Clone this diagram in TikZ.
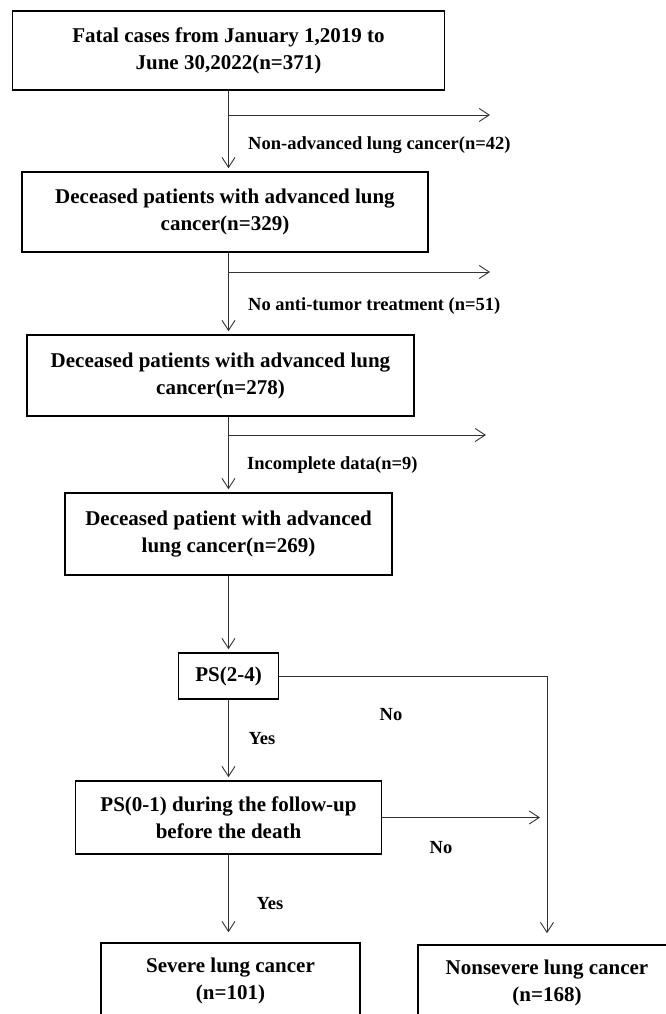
\documentclass[tikz,border=0pt]{standalone}
\usepackage{fontspec}
\setmainfont{Liberation Serif}
\usepackage{tikz}
\usetikzlibrary{arrows.meta, positioning}
\tikzstyle{block}=[draw,fill=white,rectangle,line width=1.6pt,align=center,inner sep=0pt]
\tikzstyle{every node}=[font=\fontsize{21}{27}\selectfont\bfseries]
\tikzstyle{lbl}=[inner sep=0pt,font=\fontsize{18.5}{22}\selectfont\bfseries]
\tikzstyle{link}=[line width=0.9pt,black!80,shorten >=3pt]

\begin{document}
\begin{tikzpicture}[x=1pt,y=-1pt,node distance=160pt,>={Straight Barb[length=10pt,width=13pt]}]
    \useasboundingbox (0,0) rectangle (666,1014);
    \node[block, minimum width=432pt, minimum height=79pt] (fatal) at (228.5,50.5) {Fatal cases from January 1,2019 to\\June 30,2022(n=371)};
    \node[block, below of=fatal, node distance=161.5pt, xshift=-3.5pt, minimum width=406pt, minimum height=80pt] (adv1) {Deceased patients with advanced lung\\cancer(n=329)};
    \node[block, below of=adv1, node distance=163.5pt, xshift=-4.5pt, minimum width=387pt, minimum height=81pt] (adv2) {Deceased patients with advanced lung\\cancer(n=278)};
    \node[block, below of=adv2, node distance=158.5pt, xshift=8pt, minimum width=327pt, minimum height=82pt] (adv3) {Deceased patient with advanced\\lung cancer(n=269)};
    \node[block, below of=adv3, node distance=142pt, minimum width=100pt, minimum height=46pt] (ps24) {PS(2-4)};
    \node[block, below of=ps24, node distance=141.5pt, minimum width=306pt, minimum height=73pt] (ps01) {PS(0-1) during the follow-up\\before the death};
    \node[block, below of=ps01, node distance=163.5pt, xshift=2pt, minimum width=259pt, minimum height=76pt] (severe) {Severe lung cancer\\(n=101)};
    \node[block, right of=severe, node distance=316.5pt, yshift=-1.5pt, minimum width=258pt, minimum height=75pt] (nonsevere) {Nonsevere lung cancer\\(n=168)};
    \coordinate (s1) at (228.5,115);
    \coordinate (e1) at (490,115);
    \coordinate (s2) at (228.5,272);
    \coordinate (e2) at (490,272);
    \coordinate (s3) at (228.5,435);
    \coordinate (e3) at (486,435);
    \coordinate (e4) at (540,817.5);
    \node[lbl, anchor=west] (ex1) at (248,145) {Non-advanced lung cancer(n=42)};
    \node[lbl, anchor=west] (ex2) at (248,306) {No anti-tumor treatment (n=51)};
    \node[lbl, anchor=west] (ex3) at (247,465) {Incomplete data(n=9)};
    \node[lbl] (no1) at (391,715) {No};
    \node[lbl] (yes1) at (262,739) {Yes};
    \node[lbl] (no2) at (441,848) {No};
    \node[lbl] (yes2) at (270,904) {Yes};
    \draw[link,->] (fatal.south) -- (s1 |- adv1.north);
    \draw[link,->,shorten >=0pt] (s1) -- (e1);
    \draw[link,->] (s1 |- adv1.south) -- (s1 |- adv2.north);
    \draw[link,->,shorten >=0pt] (s2) -- (e2);
    \draw[link,->] (s1 |- adv2.south) -- (s1 |- adv3.north);
    \draw[link,->,shorten >=0pt] (s3) -- (e3);
    \draw[link,->] (ps24.north |- adv3.south) -- (ps24.north);
    \draw[link,->] (ps24.south) -- (ps24.south |- ps01.north);
    \draw[link,->,shorten >=11pt] (ps24.east) -| (nonsevere.north);
    \draw[link,->,shorten >=0pt] (ps01.east) -- (e4);
    \draw[link,->,shorten >=10pt] (ps01.south) -- (ps01.south |- severe.north);
\end{tikzpicture}
\end{document}
